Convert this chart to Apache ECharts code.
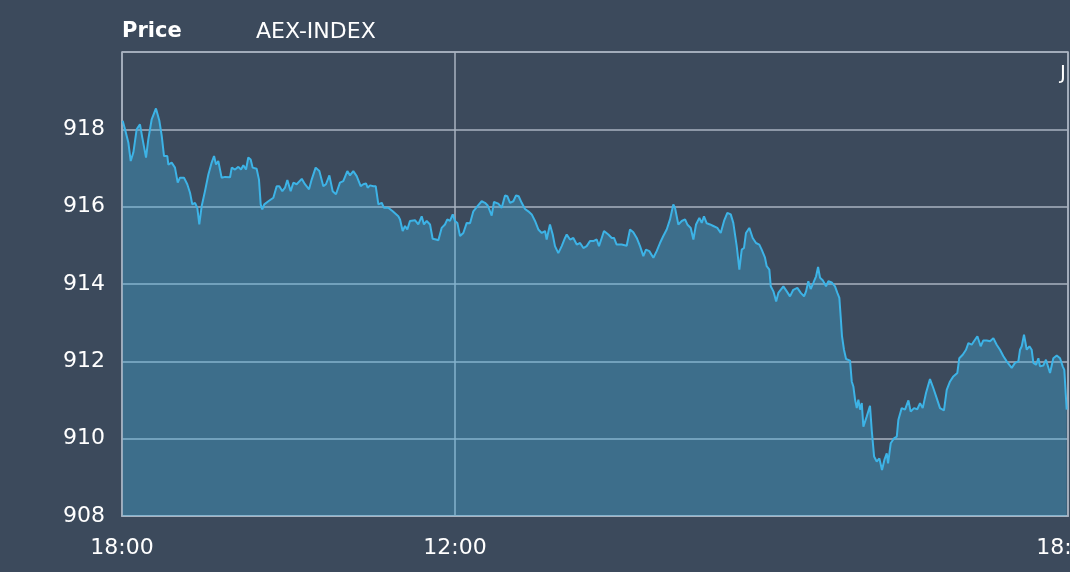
<!DOCTYPE html>
<html>
<head>
<meta charset="utf-8">
<script src="https://cdn.jsdelivr.net/npm/echarts@6/dist/echarts.min.js"></script>
<style>
html,body{margin:0;padding:0;background:#3c4a5c;}
#chart{width:1070px;height:572px;}
</style>
</head>
<body>
<div id="chart"></div>
<script>
// Time index along the session (0 = left edge, 1000 = right edge)
const timeIdx = [0.7,3.2,6.7,9.2,12,15.5,19,21.5,23.6,25.4,27.8,31.4,35.9,39.5,42,44.4,47.9,49,52.5,56,58.9,61.3,65.5,69,71.9,74.3,77.2,79.6,81.7,84.2,87.7,91.3,94.8,97.3,99.4,101.8,105.3,108.9,114.2,116,119.5,123,125.8,128.3,131.1,133.5,136,138.1,142.3,144.8,146.6,148.3,150.4,154.7,160,163.5,166.3,169.5,172.3,174.8,178.3,181.1,184.6,190,193.4,197.7,200.5,204.7,208.6,212.8,215.6,219.2,222.7,226.2,230.4,233.9,238.2,241,244.5,248.1,252.3,255.1,257.9,259.7,262.2,265.7,268.2,271,274.5,277,281.5,286.2,292.1,293.9,296.7,299.2,301.6,304.4,309.7,313.2,316.8,319.2,322.1,325.6,328.4,331.9,334.4,337.9,341.4,343.9,346.7,349.6,352,354.5,357.3,360.8,364.4,367.9,371.4,375.6,380.2,383.7,386.6,390.8,393.2,397.8,401.4,404.9,407.3,410.2,413.7,416.5,419.3,422.5,426,429.5,433.1,436.6,440.1,443.7,447.2,448.9,452.4,455.3,457.7,461.2,464.8,468.3,470.1,473.6,477.1,480.7,484.2,487.7,491.2,494.7,498.2,501.8,504.2,507.1,509.5,514.1,517.7,520.1,522.9,528.2,533.5,537,540.5,544.1,547.6,551.1,553.9,557.4,561.7,565.2,568.7,572.2,575.8,579.3,582.8,584.6,588.1,591.7,595.2,597.6,601.2,604,606.8,610.3,612.8,615.2,618.1,621.6,625.1,629.3,632.9,636.4,639.9,643.5,646.2,649.8,652.6,655.1,657.5,659.6,663.1,666.7,670.2,673.7,676.2,679.7,681.5,684.3,685.8,688.6,691.5,693.8,699.1,702.7,706.1,709.6,713.9,717.5,721,723.1,725.5,728,730.8,733.7,735.8,737.9,740.7,744.2,746.7,750.2,753.7,756.2,758.3,759.7,761.1,763.2,765.4,769.6,771.4,773.1,774.9,776.7,778.4,780.2,782,783.7,787.2,790.7,792.5,795,797.8,800.6,803.4,805.9,808.4,809.8,812.6,816.1,819,820.7,824.2,827.7,831.3,833.7,837.2,840.7,843.6,846.4,849.9,854.1,857.6,861.2,864.7,868.9,871.8,875.3,878.8,883,885.1,888.7,892.2,894.7,898.2,900.6,904.2,907.7,910.5,914.1,917.6,921.1,924.6,928.1,931.7,935.2,940.5,944,947.5,949.3,951.1,953.5,956.4,959.2,961.6,963.4,966.2,968.7,970.4,973.9,976.7,981,984.5,988.1,991.6,994.4,996.1,998.6];

const price = [918.22,918.00,917.66,917.18,917.40,918.00,918.13,917.78,917.83,917.27,917.74,918.26,918.54,918.22,917.83,917.31,917.31,917.09,917.14,917.01,916.62,916.75,916.75,916.58,916.36,916.06,916.10,915.97,915.54,916.01,916.40,916.83,917.14,917.31,917.09,917.18,916.75,916.77,916.76,917.01,916.96,917.03,916.96,917.07,916.96,917.27,917.22,917.01,916.98,916.70,916.06,915.93,916.06,916.14,916.23,916.53,916.53,916.40,916.49,916.69,916.40,916.62,916.58,916.72,916.58,916.45,916.70,917.01,916.92,916.53,916.58,916.81,916.40,916.32,916.62,916.66,916.92,916.81,916.92,916.79,916.53,916.58,916.60,916.49,916.55,916.53,916.53,916.06,916.10,915.97,915.97,915.88,915.75,915.67,915.37,915.50,915.41,915.63,915.65,915.54,915.75,915.54,915.63,915.54,915.17,915.15,915.13,915.45,915.54,915.67,915.63,915.80,915.63,915.58,915.24,915.32,915.58,915.57,915.88,916.01,916.14,916.10,916.03,915.77,916.12,916.08,915.97,916.29,916.27,916.10,916.14,916.29,916.27,916.10,915.94,915.88,915.80,915.63,915.41,915.32,915.37,915.15,915.54,915.28,914.98,914.80,914.98,915.19,915.28,915.15,915.19,915.02,915.06,914.93,914.98,915.11,915.11,915.15,914.98,915.19,915.37,915.28,915.19,915.19,915.02,915.02,914.99,915.41,915.34,915.19,914.98,914.72,914.89,914.85,914.68,914.85,915.06,915.24,915.41,915.67,916.06,915.97,915.54,915.63,915.67,915.54,915.45,915.15,915.54,915.71,915.58,915.75,915.57,915.54,915.50,915.45,915.32,915.63,915.84,915.80,915.58,914.98,914.37,914.89,914.93,915.32,915.45,915.19,915.06,915.02,914.89,914.68,914.46,914.37,913.94,913.81,913.55,913.77,913.94,913.81,913.68,913.85,913.90,913.77,913.68,913.81,914.07,913.87,914.03,914.20,914.44,914.16,914.10,913.94,914.07,914.04,913.94,913.77,913.64,913.16,912.65,912.30,912.06,912.02,911.48,911.35,911.01,910.79,911.01,910.75,910.92,910.31,910.57,910.85,910.23,909.54,909.41,909.49,909.19,909.45,909.62,909.36,909.88,910.01,910.05,910.49,910.79,910.75,910.99,910.70,910.79,910.76,910.92,910.79,911.18,911.54,911.31,911.05,910.79,910.73,911.26,911.48,911.61,911.70,912.08,912.17,912.30,912.47,912.43,912.52,912.65,912.39,912.54,912.54,912.52,912.60,912.43,912.30,912.13,912.00,911.83,911.96,912.00,912.30,912.39,912.69,912.30,912.39,912.30,911.96,911.91,912.08,911.87,911.89,912.04,911.70,912.08,912.15,912.08,911.87,911.78,910.75];

const xTickValues = [0, 352, 1000];
const xTickLabels = ['18:00', '12:00', '18:00'];
const yMin = 908, yMax = 920, yStep = 2;

const seriesData = timeIdx.map((t, i) => [t, price[i]]);

const chart = echarts.init(document.getElementById('chart'), null, {renderer: 'canvas'});
const gridColor = '#a9b3c1';
const textColor = '#ffffff';
const font = 'DejaVu Sans';

chart.setOption({
  backgroundColor: '#3c4a5c',
  animation: false,
  title: [
    {text: 'Price', left: 122, top: 21, padding: 0, textStyle: {color: textColor, fontFamily: font, fontWeight: 'bold', fontSize: 21}},
    {text: 'AEX-INDEX', left: 256, top: 21, padding: 0, textStyle: {color: textColor, fontFamily: font, fontWeight: 'normal', fontSize: 22}}
  ],
  graphic: [
    {type: 'text', left: 1060, top: 64, style: {text: 'J', fill: textColor, font: '20px DejaVu Sans'}}
  ],
  grid: {
    left: 122, right: 2, top: 52, bottom: 56,
    containLabel: false, outerBoundsMode: 'none',
    show: true, borderColor: gridColor, borderWidth: 1.5, backgroundColor: 'transparent'
  },
  xAxis: {
    type: 'value', min: 0, max: 1000,
    axisLine: {show: true, lineStyle: {color: gridColor, width: 2}},
    axisTick: {show: false, customValues: xTickValues},
    splitLine: {show: true, lineStyle: {color: gridColor, width: 1.5}},
    axisLabel: {
      customValues: xTickValues,
      color: textColor, fontFamily: font, fontSize: 22, margin: 21,
      hideOverlap: false,
      formatter: function (v) { const i = xTickValues.indexOf(v); return i >= 0 ? xTickLabels[i] : ''; }
    }
  },
  yAxis: {
    type: 'value', min: yMin, max: yMax, interval: yStep,
    axisLine: {show: false},
    axisTick: {show: false},
    splitLine: {show: true, lineStyle: {color: gridColor, width: 1.5}},
    axisLabel: {color: textColor, fontFamily: font, fontSize: 22, margin: 17, showMaxLabel: false}
  },
  series: [{
    type: 'line',
    data: seriesData,
    symbol: 'none',
    smooth: false,
    lineStyle: {color: '#3db3e6', width: 2},
    areaStyle: {color: 'rgba(64,178,228,0.5)', origin: 'start'}
  }]
});
</script>
</body>
</html>
